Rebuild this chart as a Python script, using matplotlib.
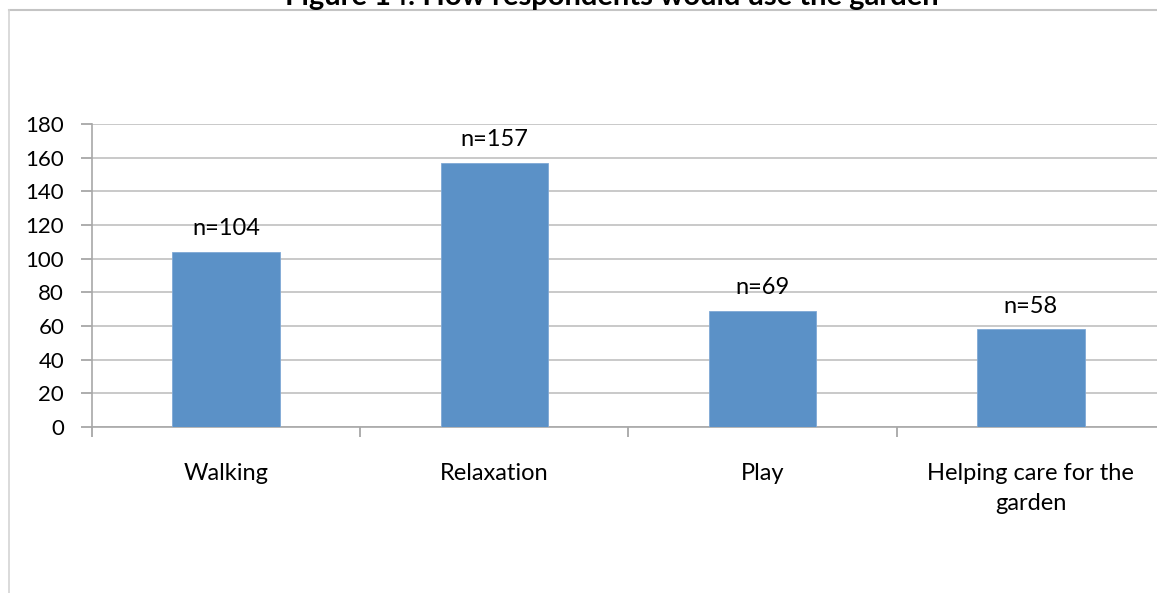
import matplotlib.pyplot as plt
from matplotlib.lines import Line2D

categories = ['Walking', 'Relaxation', 'Play', 'Helping care for the\ngarden']
counts = [104, 157, 69, 58]
bar_labels = ['n=104', 'n=157', 'n=69', 'n=58']
yticks = [0, 20, 40, 60, 80, 100, 120, 140, 160, 180]

plt.rcParams['font.family'] = ['Lato', 'DejaVu Sans']

fig = plt.figure(figsize=(11.57, 5.93), dpi=100)

# frame around the chart (cut by the image edge on right and bottom)
fig.add_artist(Line2D([0.0078, 1.0], [0.983, 0.983], transform=fig.transFigure,
                      color='#c4c4c4', linewidth=1.5))
fig.add_artist(Line2D([0.0078, 0.0078], [0.0, 0.983], transform=fig.transFigure,
                      color='#d4d4d4', linewidth=1.2))

# title, mostly cut off at the top (as in the source)
fig.text(0.529, 0.991, 'Figure 14: How respondents would use the garden',
         ha='center', va='baseline', fontsize=21, fontweight='bold', color='black')

ax = fig.add_axes([0.0795, 0.2799, 0.9274, 0.511])
x = range(len(categories))
ax.bar(x, counts, width=0.4, color='#5b91c7', edgecolor='#7fa9d6', linewidth=0.6, zorder=3)

for i, (v, lab) in enumerate(zip(counts, bar_labels)):
    ax.annotate(lab, (i, v), xytext=(0, 9), textcoords='offset points',
                ha='center', va='bottom', fontsize=17, color='black')

ax.set_xlim(-0.5, len(categories) - 0.5)
ax.set_ylim(0, 180)
ax.set_yticks(yticks)
ax.set_yticklabels([str(t) for t in yticks], fontsize=16)
ax.grid(True, axis='y', color='#c0c0c0', linewidth=1.2, zorder=0)

# category boundaries as x ticks, labels as minor ticks at centers
ax.set_xticks([i - 0.5 for i in range(len(categories) + 1)])
ax.set_xticklabels([])
ax.set_xticks(list(x), minor=True)
ax.set_xticklabels(categories, minor=True, fontsize=17, linespacing=1.5)
ax.tick_params(axis='x', which='minor', length=0, pad=26)
ax.tick_params(axis='x', which='major', length=7, color='#a0a0a0', width=1.2)
ax.tick_params(axis='y', length=8, color='#a0a0a0', width=1.2, pad=12)

for side in ['top', 'right']:
    ax.spines[side].set_visible(False)
ax.spines['left'].set_color('#a8a8a8')
ax.spines['bottom'].set_color('#a8a8a8')
ax.spines['left'].set_linewidth(1.2)
ax.spines['bottom'].set_linewidth(1.2)

fig.savefig('out.png', dpi=100)
